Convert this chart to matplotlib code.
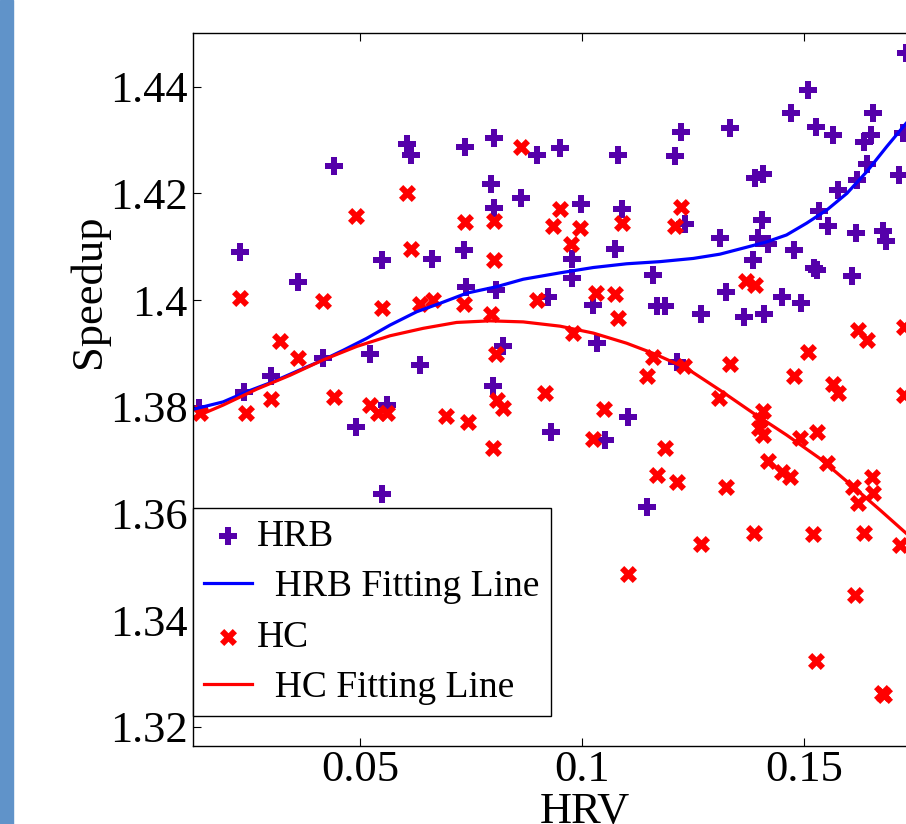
import matplotlib
matplotlib.use("Agg")
import matplotlib.pyplot as plt
from matplotlib.patches import Rectangle

plt.rcParams['font.family'] = ['Liberation Serif', 'DejaVu Serif']

# HRB points
hrb_x = [0.0228, 0.0440, 0.0605, 0.0614, 0.0736, 0.0801, 0.0897, 0.0794, 0.0802, 0.0861,
         0.0548, 0.0662, 0.0734, 0.0360, 0.0738, 0.0806, 0.0923, 0.0522, 0.0635, 0.0299,
         0.0237, 0.0415, 0.0822, 0.0800, 0.0137, 0.0560, 0.0490, 0.0548, 0.0930, 0.1729,
         0.1509, 0.1469, 0.1526, 0.1564, 0.1655, 0.1650, 0.1635, 0.1722, 0.1333, 0.1222,
         0.1209, 0.1080, 0.0950, 0.1389, 0.1406, 0.1641, 0.1618, 0.1577, 0.1714, 0.1534,
         0.1553, 0.1616, 0.1677, 0.1684, 0.0996, 0.1090, 0.1231, 0.1405, 0.1310, 0.1396,
         0.1419, 0.1477, 0.1074, 0.0976, 0.1385, 0.1522, 0.1529, 0.1160, 0.1607, 0.0977,
         0.1324, 0.1449, 0.1492, 0.1025, 0.1168, 0.1186, 0.1267, 0.1365, 0.1410, 0.1034,
         0.1213, 0.1104, 0.1051, 0.1145]
hrb_y = [1.4090, 1.4251, 1.4293, 1.4272, 1.4287, 1.4303, 1.4272, 1.4217, 1.4172, 1.4192,
         1.4076, 1.4077, 1.4093, 1.4034, 1.4024, 1.4018, 1.4006, 1.3899, 1.3878, 1.3858,
         1.3828, 1.3891, 1.3914, 1.3839, 1.3797, 1.3803, 1.3761, 1.3636, 1.3753, 1.4463,
         1.4394, 1.4350, 1.4324, 1.4309, 1.4350, 1.4309, 1.4297, 1.4313, 1.4323, 1.4316,
         1.4270, 1.4272, 1.4285, 1.4228, 1.4236, 1.4255, 1.4225, 1.4206, 1.4234, 1.4167,
         1.4139, 1.4125, 1.4129, 1.4111, 1.4180, 1.4170, 1.4142, 1.4151, 1.4116, 1.4116,
         1.4105, 1.4094, 1.4095, 1.4077, 1.4075, 1.4060, 1.4056, 1.4047, 1.4046, 1.4042,
         1.4016, 1.4006, 1.3995, 1.3991, 1.3989, 1.3989, 1.3973, 1.3969, 1.3974, 1.3920,
         1.3884, 1.3781, 1.3738, 1.3612]

# HC points
hc_x = [0.0861, 0.0605, 0.0490, 0.0736, 0.0801, 0.0934, 0.0614, 0.0801, 0.0228, 0.0415,
        0.0548, 0.0635, 0.0663, 0.0734, 0.0794, 0.0897, 0.0319, 0.0360, 0.0806, 0.0298,
        0.0243, 0.0139, 0.0441, 0.0522, 0.0541, 0.0560, 0.0693, 0.0743, 0.0807, 0.0821,
        0.0800, 0.0916, 0.0950, 0.0995, 0.0975, 0.1090, 0.1222, 0.1209, 0.1032, 0.1074,
        0.1080, 0.1368, 0.1389, 0.0978, 0.1160, 0.1146, 0.1228, 0.1333, 0.1509, 0.1477,
        0.1622, 0.1641, 0.1725, 0.1564, 0.1577, 0.1725, 0.1309, 0.1408, 0.1400, 0.1399,
        0.1408, 0.1050, 0.1025, 0.1186, 0.1169, 0.1214, 0.1324, 0.1419, 0.1449, 0.1468,
        0.1490, 0.1528, 0.1552, 0.1609, 0.1652, 0.1655, 0.1622, 0.1716, 0.1387, 0.1519,
        0.1635, 0.1267, 0.1104, 0.1614, 0.1526, 0.1680, 0.1674]
hc_y = [1.4287, 1.4201, 1.4158, 1.4147, 1.4149, 1.4138, 1.4096, 1.4075, 1.4003, 1.3999,
        1.3986, 1.3993, 1.4001, 1.3992, 1.3973, 1.4001, 1.3923, 1.3891, 1.3899, 1.3814,
        1.3788, 1.3788, 1.3819, 1.3803, 1.3789, 1.3789, 1.3783, 1.3772, 1.3813, 1.3798,
        1.3723, 1.3825, 1.4170, 1.4136, 1.4105, 1.4144, 1.4174, 1.4139, 1.4014, 1.4011,
        1.3966, 1.4036, 1.4028, 1.3939, 1.3894, 1.3858, 1.3876, 1.3881, 1.3903, 1.3858,
        1.3944, 1.3926, 1.3950, 1.3842, 1.3825, 1.3822, 1.3816, 1.3791, 1.3775, 1.3760,
        1.3747, 1.3795, 1.3739, 1.3722, 1.3671, 1.3659, 1.3650, 1.3698, 1.3678, 1.3669,
        1.3741, 1.3753, 1.3695, 1.3650, 1.3668, 1.3639, 1.3619, 1.3541, 1.3564, 1.3561,
        1.3564, 1.3542, 1.3486, 1.3446, 1.3323, 1.3259, 1.3263]

# fitting lines
hrb_fit_x = [0.0123, 0.0191, 0.0244, 0.0304, 0.0364, 0.0417, 0.0462, 0.0514, 0.0567, 0.0627,
             0.0680, 0.0740, 0.0807, 0.0867, 0.0950, 0.1025, 0.1100, 0.1175, 0.1250, 0.1310,
             0.1370, 0.1415, 0.1460, 0.1505, 0.1551, 0.1596, 0.1641, 0.1686, 0.1729]
hrb_fit_y = [1.3795, 1.3809, 1.3828, 1.3847, 1.3869, 1.3888, 1.3906, 1.3928, 1.3953, 1.3978,
             1.3994, 1.4013, 1.4025, 1.4039, 1.4051, 1.4061, 1.4068, 1.4072, 1.4078, 1.4086,
             1.4099, 1.4109, 1.4122, 1.4144, 1.4169, 1.4200, 1.4241, 1.4288, 1.4331]
hc_fit_x = [0.0123, 0.0191, 0.0267, 0.0342, 0.0417, 0.0492, 0.0567, 0.0642, 0.0717, 0.0792,
            0.0867, 0.0950, 0.1025, 0.1100, 0.1160, 0.1235, 0.1310, 0.1385, 0.1460, 0.1535,
            0.1610, 0.1671, 0.1729]
hc_fit_y = [1.3779, 1.3803, 1.3833, 1.3859, 1.3888, 1.3913, 1.3933, 1.3947, 1.3958, 1.3961,
            1.3959, 1.3951, 1.3938, 1.3919, 1.3900, 1.3872, 1.3831, 1.3788, 1.3747, 1.3703,
            1.3650, 1.3606, 1.3563]

x_ticks = [0.05, 0.1, 0.15]
x_tick_labels = ['0.05', '0.1', '0.15']
y_ticks = [1.32, 1.34, 1.36, 1.38, 1.40, 1.42, 1.44]
y_tick_labels = ['1.32', '1.34', '1.36', '1.38', '1.4', '1.42', '1.44']

W, H = 906, 824
fig = plt.figure(figsize=(W / 100, H / 100), dpi=100)
fig.add_artist(Rectangle((0, 0), 13 / W, 1, transform=fig.transFigure,
                         color='#6093c9', zorder=0))

ax = fig.add_axes([193 / W, 78 / H, 784 / W, 713 / H])

ax.scatter(hrb_x, hrb_y, marker='P', s=185, color='#5500aa', linewidths=0, label='HRB')
ax.plot(hrb_fit_x, hrb_fit_y, color='#0000ff', lw=2.3, label='  HRB Fitting Line')
ax.scatter(hc_x, hc_y, marker='X', s=150, color='#ff0000', linewidths=0, label='HC')
ax.plot(hc_fit_x, hc_fit_y, color='#ff0000', lw=2.3, label='  HC Fitting Line')

ax.set_xlim(0.01232, 0.1889)
ax.set_ylim(1.31638, 1.45007)
ax.set_xticks(x_ticks)
ax.set_xticklabels(x_tick_labels)
ax.set_yticks(y_ticks)
ax.set_yticklabels(y_tick_labels)
ax.tick_params(direction='in', length=6, width=0.8, top=True, right=False,
               labelsize=32, colors='black')
ax.tick_params(axis='y', pad=4)
ax.tick_params(axis='x', pad=3)
for side in ['left', 'bottom', 'top']:
    ax.spines[side].set_linewidth(1.0)
ax.spines['right'].set_visible(False)

ax.set_ylabel('Speedup', fontsize=32)
ax.yaxis.set_label_coords(-0.107, 0.638)
ax.set_xlabel('HRV', fontsize=32)
ax.xaxis.set_label_coords(0.5, -0.064)

leg = ax.legend(loc='lower left', bbox_to_anchor=(0, 0.042), borderaxespad=0,
                fontsize=27, fancybox=False, framealpha=1, edgecolor='black',
                handlelength=1.26, handletextpad=0.13, borderpad=0.3,
                labelspacing=0.42, scatterpoints=1)
leg.get_frame().set_linewidth(1.0)

fig.savefig('out.png', dpi=100)
